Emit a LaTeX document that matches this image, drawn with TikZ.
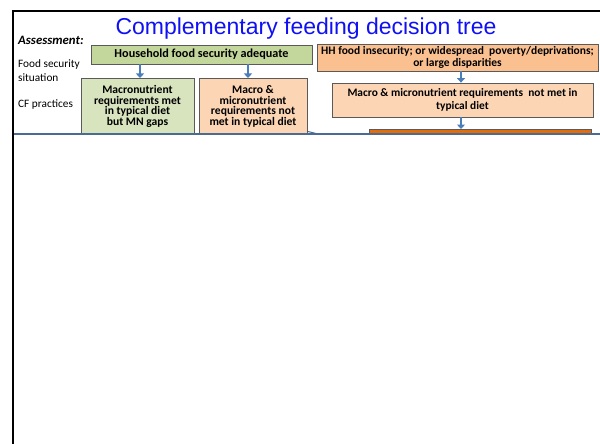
\documentclass[tikz,border=0pt]{standalone}
\usepackage{fontspec}
\setmainfont{Carlito}
\newfontfamily\titlefont{Liberation Sans}
\usetikzlibrary{arrows.meta,calc}
\definecolor{frameblue}{HTML}{4A6C93}
\definecolor{arrowblue}{HTML}{4A7EBB}
\definecolor{titleblue}{HTML}{1010F5}
\definecolor{boxline}{HTML}{5A5A5A}
\definecolor{greendark}{HTML}{C3D69B}
\definecolor{greenlight}{HTML}{D7E4BD}
\definecolor{peachdark}{HTML}{FAC090}
\definecolor{peachlight}{HTML}{FCD5B5}
\definecolor{orangebox}{HTML}{E46C0A}
\tikzset{
  box/.style={draw=boxline, line width=0.8pt, inner sep=1pt, align=center,
    font=\fontsize{11.6}{10.6}\selectfont\bfseries},
  sidelabel/.style={anchor=base west, inner sep=0pt, font=\fontsize{11.3}{12}\selectfont},
  arr/.style={draw=arrowblue, line width=1.7pt, -{Triangle[length=4.5pt,width=8pt]}},
}
\begin{document}
\begin{tikzpicture}[x=1pt,y=-1pt]
\useasboundingbox (0,0) rectangle (600,444);
\fill[white] (0,0) rectangle (600,444);

% title and row labels
\node[anchor=base, inner sep=0pt, text=titleblue, font=\titlefont\fontsize{23}{25}\selectfont]
  (title) at (306,35) {Complementary feeding decision tree};
\node[sidelabel, font=\fontsize{12.8}{14}\selectfont\bfseries\itshape] (assess) at (18,45) {Assessment:};
\node[sidelabel] (fs1) at (18,67.5) {Food security};
\node[sidelabel] (fs2) at (18,81.5) {situation};
\node[sidelabel] (cf) at (18,107.5) {CF practices};

% food security situation boxes
\node[box, fill=greendark, minimum width=221pt, minimum height=19pt,
  font=\fontsize{12.2}{13}\selectfont\bfseries] (hfs) at (201.5,54.5)
  {Household food security adequate};
\node[box, fill=peachdark, minimum width=281pt, minimum height=27pt,
  font=\fontsize{11.5}{11.7}\selectfont\bfseries] (hh) at (457.5,57.5)
  {HH food insecurity; or widespread\ \ poverty/deprivations;\\or large disparities};

% CF practice boxes
\node[box, fill=greenlight, minimum width=113pt, minimum height=56pt, anchor=north] (b1) at (137.5,78)
  {Macronutrient\\requirements met\\in typical diet\\but MN gaps};
\node[box, fill=peachlight, minimum width=108pt, minimum height=56pt, anchor=north] (b2) at (253,78)
  {Macro \&\\micronutrient\\requirements not\\met in typical diet};
\node[box, fill=peachlight, minimum width=261pt, minimum height=34pt,
  font=\fontsize{11.4}{13.7}\selectfont\bfseries] (b3) at (462.5,100)
  {Macro \& micronutrient requirements\ \ not met in\\typical diet};
\node[box, fill=orangebox, minimum width=222pt, minimum height=8pt, anchor=north] (b4) at (480,129) {};

% connectors
\draw[arr] ([xshift=2.5pt]b1.north |- hfs.south) -- ([xshift=2.5pt]b1.north);
\draw[arr] ([xshift=-5pt]b2.north |- hfs.south) -- ([xshift=-5pt]b2.north);
\draw[arr] ([xshift=-1.5pt]b3.north |- hh.south) -- ([xshift=-1.5pt]b3.north);
\draw[arr] ([xshift=-1.5pt]b3.south) -- ([xshift=-1.5pt]b3.south |- b4.north);

% lower panel: everything below the divider is blank
\fill[white] (14,135) rectangle (600,444);
\draw[frameblue, line width=1pt] (308,131.5) .. controls (312,132.5) .. (318,134);
\draw[frameblue, line width=1.6pt] (14,134) -- (600,134);

% outer frame
\draw[black, line width=2pt] (600,11.5) -- (13,11.5) -- (13,444);
\end{tikzpicture}
\end{document}
